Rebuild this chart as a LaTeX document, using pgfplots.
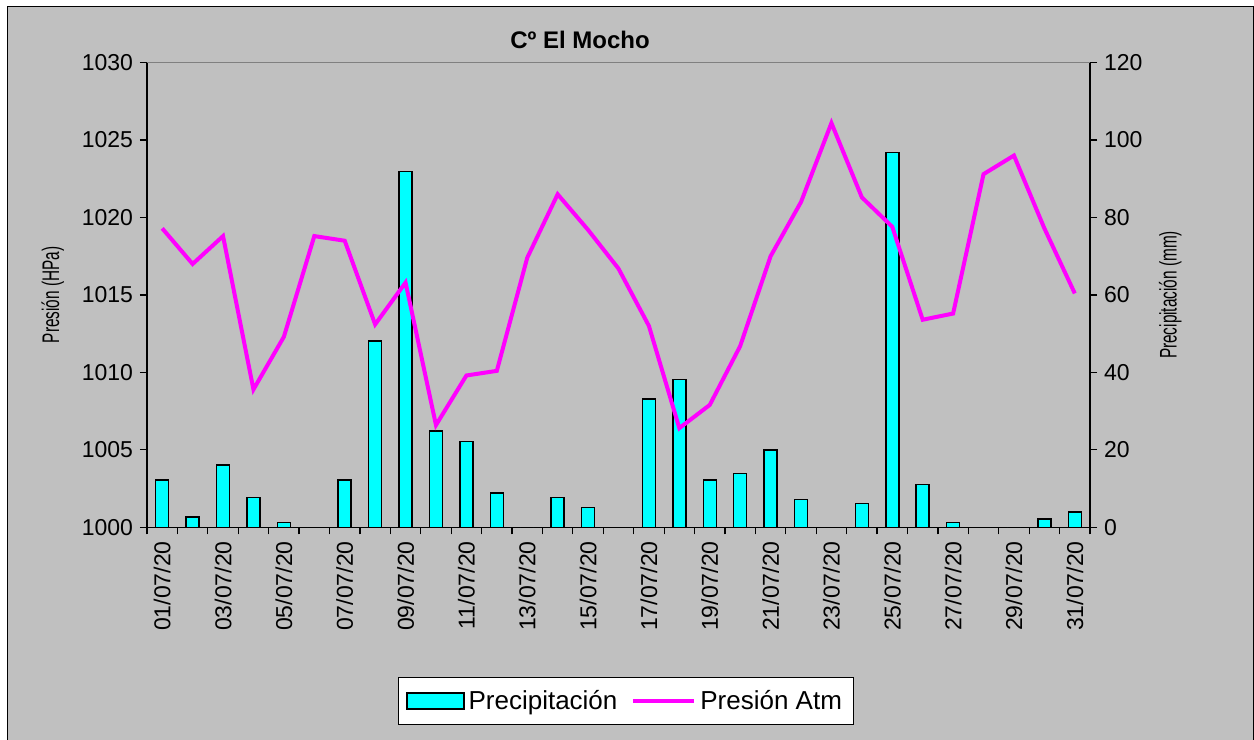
\documentclass[border=0pt]{standalone}
\usepackage{fontspec}
\setmainfont{Liberation Sans}
\newfontfamily\narrowfont[FakeStretch=0.64]{Liberation Sans}
\usepackage{pgfplots}
\pgfplotsset{compat=1.18}
\definecolor{bg}{HTML}{C0C0C0}
\definecolor{cy}{HTML}{00FFFF}
\definecolor{mg}{HTML}{FF00FF}
\definecolor{topline}{HTML}{808080}

\pgfplotstableread{
day precip
1 12.2
2 2.7
3 16.1
4 7.7
5 1.2
6 0
7 12.2
8 48.1
9 91.9
10 24.9
11 22.1
12 8.8
13 0
14 7.7
15 5.1
16 0
17 33.1
18 38.2
19 12.2
20 13.9
21 19.9
22 7.2
23 0
24 6.2
25 96.8
26 11.1
27 1.2
28 0
29 0
30 2.1
31 3.9
}\precip

\pgfplotstableread{
day pres
1 1019.3
2 1017.0
3 1018.8
4 1008.9
5 1012.3
6 1018.8
7 1018.5
8 1013.1
9 1015.8
10 1006.6
11 1009.8
12 1010.1
13 1017.4
14 1021.5
15 1019.2
16 1016.7
17 1013.0
18 1006.4
19 1007.9
20 1011.7
21 1017.5
22 1021.0
23 1026.1
24 1021.3
25 1019.4
26 1013.4
27 1013.8
28 1022.8
29 1024.0
30 1019.3
31 1015.1
}\pres

\begin{document}
\begin{tikzpicture}
\useasboundingbox (0,0) rectangle (627bp,370bp);
\fill[white] (0,0) rectangle (627bp,370bp);
\filldraw[fill=bg, draw=black, line width=0.6bp] (3.6bp,-2bp) rectangle (626.6bp,366.6bp);
\node[font=\fontsize{12bp}{14bp}\selectfont\bfseries] at (290bp,350.2bp) {Cº El Mocho};

\pgfplotsset{
  common/.style={
    at={(73.5bp,106.35bp)}, anchor=south west,
    scale only axis, width=471.5bp, height=232.35bp,
    xmin=0.5, xmax=31.5,
    tick align=outside,
    major tick length=3.5bp, minor tick length=3.5bp,
    tick label style={font=\fontsize{11.5bp}{13bp}\selectfont},
    /pgf/number format/assume math mode=true,
    axis line style={line width=0.8bp, black},
    every tick/.style={black, line width=0.6bp},
  }
}

\begin{axis}[common,
  axis x line*=bottom, axis y line*=right,
  ymin=0, ymax=120, ytick={0,20,...,120},
  xtick={1,3,...,31},
  xticklabels={01/07/20,03/07/20,05/07/20,07/07/20,09/07/20,11/07/20,13/07/20,15/07/20,17/07/20,19/07/20,21/07/20,23/07/20,25/07/20,27/07/20,29/07/20,31/07/20},
  major x tick style={draw=none},
  minor xtick={0.5,1.5,...,31.5},
  xticklabel style={rotate=90, anchor=east},
  ylabel={\narrowfont\fontsize{12bp}{14bp}\selectfont Precipitación (mm)},
  ylabel style={at={(axis description cs:1.085,0.5)}, anchor=center},
]
\addplot[ybar, bar width=6.5bp, fill=cy, draw=black, line width=0.75bp] table[x=day,y=precip] {\precip};
\end{axis}

\begin{axis}[common,
  axis x line=none, axis y line*=left,
  ymin=1000, ymax=1030, ytick={1000,1005,...,1030},
  /pgf/number format/1000 sep={},
  ylabel={\narrowfont\fontsize{12bp}{14bp}\selectfont Presión (HPa)},
  ylabel style={at={(axis description cs:-0.1,0.5)}, anchor=center},
  legend style={at={(axis description cs:0.508,-0.3737)}, anchor=center,
    draw=black, line width=0.5bp, fill=white, legend columns=2,
    font=\fontsize{13bp}{15bp}\selectfont, inner xsep=4bp, inner ysep=4bp,
    /tikz/every even column/.append style={column sep=5bp}},
  legend cell align=left,
]
\addlegendimage{legend image code/.code={\draw[fill=cy,draw=black,line width=0.75bp] (0bp,-4bp) rectangle (28.5bp,4bp);}}
\addlegendentry{Precipitación}
\addplot[mg, line width=2bp, legend image code/.code={\draw[mg,line width=2bp] (0bp,0bp) -- (30.5bp,0bp);}] table[x=day,y=pres] {\pres};
\addlegendentry{Presión Atm}
\end{axis}
\draw[topline, line width=0.8bp] (73.5bp,338.7bp) -- (545bp,338.7bp);
\end{tikzpicture}
\end{document}
